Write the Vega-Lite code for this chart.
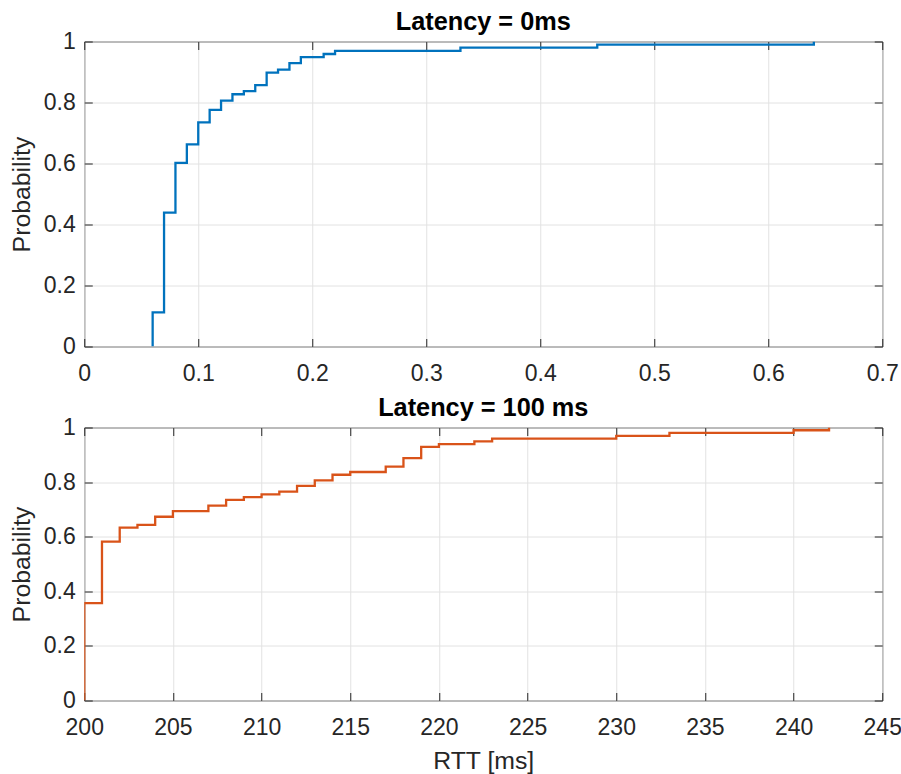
{
  "$schema": "https://vega.github.io/schema/vega-lite/v6.json",
  "background": "white",
  "padding": {"left": 8.25, "top": 9.5, "right": 5, "bottom": 0},
  "config": {
    "font": "Liberation Sans",
    "view": {"stroke": "#262626", "strokeWidth": 1},
    "axis": {
      "labelFont": "Liberation Sans",
      "labelFontSize": 23,
      "labelColor": "#262626",
      "titleFont": "Liberation Sans",
      "titleFontSize": 24.8,
      "titleFontWeight": "normal",
      "titleColor": "#262626",
      "gridColor": "#e2e2e2",
      "gridWidth": 1,
      "gridOpacity": 1,
      "tickColor": "#262626",
      "tickSize": -8,
      "tickWidth": 1,
      "domain": false
    },
    "title": {
      "font": "Liberation Sans",
      "fontSize": 25.3,
      "fontWeight": "bold",
      "color": "#000000",
      "frame": "group",
      "anchor": "middle",
      "baseline": "alphabetic",
      "offset": -5
    }
  },
  "bounds": "flush",
  "spacing": 81,
  "vconcat": [
    {
      "width": 798,
      "height": 305,
      "title": "Latency = 0ms",
      "data": {"values": [
        {"rtt": 0.06, "p": 0},
        {"rtt": 0.06, "p": 0.112},
        {"rtt": 0.07, "p": 0.439},
        {"rtt": 0.08, "p": 0.602},
        {"rtt": 0.09, "p": 0.663},
        {"rtt": 0.10, "p": 0.735},
        {"rtt": 0.11, "p": 0.776},
        {"rtt": 0.12, "p": 0.806},
        {"rtt": 0.13, "p": 0.827},
        {"rtt": 0.14, "p": 0.837},
        {"rtt": 0.15, "p": 0.857},
        {"rtt": 0.16, "p": 0.898},
        {"rtt": 0.17, "p": 0.908},
        {"rtt": 0.18, "p": 0.929},
        {"rtt": 0.19, "p": 0.949},
        {"rtt": 0.21, "p": 0.959},
        {"rtt": 0.22, "p": 0.969},
        {"rtt": 0.33, "p": 0.980},
        {"rtt": 0.45, "p": 0.990},
        {"rtt": 0.64, "p": 1.0}
      ]},
      "layer": [
        {
          "mark": {"type": "line", "interpolate": "step-after", "color": "#0072BD", "strokeWidth": 2.3, "clip": true},
          "encoding": {
            "x": {"field": "rtt", "type": "quantitative",
                  "scale": {"domain": [0, 0.7], "nice": false, "zero": false},
                  "axis": {"orient": "bottom", "values": [0, 0.1, 0.2, 0.3, 0.4, 0.5, 0.6, 0.7], "format": "~g", "title": null, "labelPadding": 23.5, "grid": true, "labelFlush": false}},
            "y": {"field": "p", "type": "quantitative",
                  "scale": {"domain": [0, 1], "nice": false},
                  "axis": {"orient": "left", "values": [0, 0.2, 0.4, 0.6, 0.8, 1], "format": "~g", "title": "Probability", "labelPadding": 17, "titlePadding": 9, "grid": true}},
            "order": {"value": null}
          }
        },
        {
          "mark": {"type": "line", "interpolate": "step-after", "opacity": 0},
          "encoding": {
            "x": {"field": "rtt", "type": "quantitative",
                  "axis": {"orient": "top", "values": [0, 0.1, 0.2, 0.3, 0.4, 0.5, 0.6, 0.7], "labels": false, "title": null, "grid": false, "minExtent": 0, "maxExtent": 0}},
            "y": {"field": "p", "type": "quantitative",
                  "axis": {"orient": "right", "values": [0, 0.2, 0.4, 0.6, 0.8, 1], "labels": false, "title": null, "grid": false, "minExtent": 0, "maxExtent": 0}},
            "order": {"value": null}
          }
        }
      ],
      "resolve": {"axis": {"x": "independent", "y": "independent"}}
    },
    {
      "width": 798,
      "height": 273,
      "title": "Latency = 100 ms",
      "data": {"values": [
        {"rtt": 200, "p": 0},
        {"rtt": 200, "p": 0.357},
        {"rtt": 201, "p": 0.582},
        {"rtt": 202, "p": 0.633},
        {"rtt": 203, "p": 0.643},
        {"rtt": 204, "p": 0.673},
        {"rtt": 205, "p": 0.694},
        {"rtt": 207, "p": 0.714},
        {"rtt": 208, "p": 0.735},
        {"rtt": 209, "p": 0.745},
        {"rtt": 210, "p": 0.755},
        {"rtt": 211, "p": 0.765},
        {"rtt": 212, "p": 0.786},
        {"rtt": 213, "p": 0.806},
        {"rtt": 214, "p": 0.827},
        {"rtt": 215, "p": 0.837},
        {"rtt": 217, "p": 0.857},
        {"rtt": 218, "p": 0.888},
        {"rtt": 219, "p": 0.929},
        {"rtt": 220, "p": 0.939},
        {"rtt": 222, "p": 0.949},
        {"rtt": 223, "p": 0.959},
        {"rtt": 230, "p": 0.969},
        {"rtt": 233, "p": 0.980},
        {"rtt": 240, "p": 0.990},
        {"rtt": 242, "p": 1.0}
      ]},
      "layer": [
        {
          "mark": {"type": "line", "interpolate": "step-after", "color": "#D95319", "strokeWidth": 2.3, "clip": true},
          "encoding": {
            "x": {"field": "rtt", "type": "quantitative",
                  "scale": {"domain": [200, 245], "nice": false, "zero": false},
                  "axis": {"orient": "bottom", "values": [200, 205, 210, 215, 220, 225, 230, 235, 240, 245], "format": "d", "title": "RTT [ms]", "labelPadding": 23.5, "titlePadding": 9.5, "grid": true, "labelFlush": false}},
            "y": {"field": "p", "type": "quantitative",
                  "scale": {"domain": [0, 1], "nice": false},
                  "axis": {"orient": "left", "values": [0, 0.2, 0.4, 0.6, 0.8, 1], "format": "~g", "title": "Probability", "labelPadding": 17, "titlePadding": 9, "grid": true}},
            "order": {"value": null}
          }
        },
        {
          "mark": {"type": "line", "interpolate": "step-after", "opacity": 0},
          "encoding": {
            "x": {"field": "rtt", "type": "quantitative",
                  "axis": {"orient": "top", "values": [200, 205, 210, 215, 220, 225, 230, 235, 240, 245], "labels": false, "title": null, "grid": false, "minExtent": 0, "maxExtent": 0}},
            "y": {"field": "p", "type": "quantitative",
                  "axis": {"orient": "right", "values": [0, 0.2, 0.4, 0.6, 0.8, 1], "labels": false, "title": null, "grid": false, "minExtent": 0, "maxExtent": 0}},
            "order": {"value": null}
          }
        }
      ],
      "resolve": {"axis": {"x": "independent", "y": "independent"}}
    }
  ]
}
